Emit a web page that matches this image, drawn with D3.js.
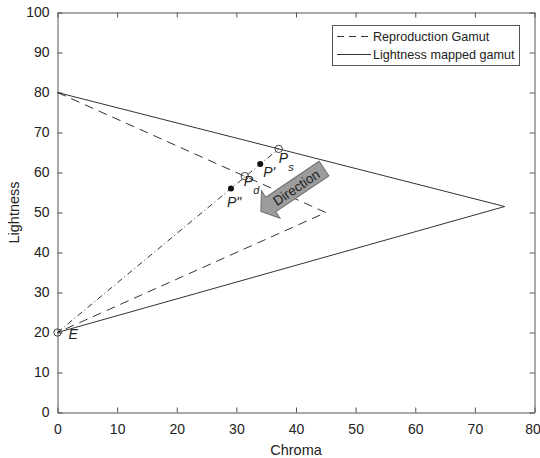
<!DOCTYPE html>
<html>
<head>
<meta charset="utf-8">
<script src="https://cdn.jsdelivr.net/npm/d3@7"></script>
<style>
  body { margin: 0; background: #fff; }
  svg text { font-family: "Liberation Sans", Arial, sans-serif; fill: #222; }
</style>
</head>
<body>
<svg id="chart" width="540" height="458"></svg>
<script>
// Axis ticks
const xTicks = [0, 10, 20, 30, 40, 50, 60, 70, 80];
const yTicks = [0, 10, 20, 30, 40, 50, 60, 70, 80, 90, 100];

// Gamut boundaries (chroma, lightness)
const reproChroma = [0, 45, 0];
const reproLightness = [80, 50, 20];
const mappedChroma = [0, 75, 0];
const mappedLightness = [80, 51.5, 20];

// Mapping line from the anchor E through the source point
const mapLineChroma = [0, 37.1];
const mapLineLightness = [20, 65.9];

// Marked points
const openNames = ["Ps", "Pd", "E"];
const openChroma = [37.1, 31.4, 0];
const openLightness = [65.9, 59.1, 20];
const filledNames = ["P'", "P\""];
const filledChroma = [34.0, 29.1];
const filledLightness = [62.1, 56.0];

// Direction arrow (tail -> tip) in chart units
const arrowChroma = [44.7, 34.1];
const arrowLightness = [61.0, 50.3];

const legendLabels = ["Reproduction Gamut", "Lightness mapped gamut"];

const zip = (cs, ls) => cs.map((c, i) => ({ c, l: ls[i] }));

const svg = d3.select("#chart");
const plotL = 57.5, plotR = 534.5, plotT = 12.5, plotB = 412.5;

const x = d3.scaleLinear().domain([0, 80]).range([plotL, plotR]);
const y = d3.scaleLinear().domain([0, 100]).range([plotB, plotT]);

const axisColor = "#555";
const lineColor = "#333";

// Axes: box with inward ticks on all four sides
const tickLen = 5;
const axes = svg.append("g");
const xAxisG = axes.append("g").attr("transform", `translate(0,${plotB})`)
  .call(d3.axisBottom(x).tickValues(xTicks).tickSizeInner(-tickLen).tickSizeOuter(0).tickPadding(12));
axes.append("g").attr("transform", `translate(0,${plotT})`)
  .call(d3.axisTop(x).tickValues(xTicks).tickSizeInner(-tickLen).tickSizeOuter(0).tickFormat(""));
axes.append("g").attr("transform", `translate(${plotL},0)`)
  .call(d3.axisLeft(y).tickValues(yTicks).tickSizeInner(-tickLen).tickSizeOuter(0).tickPadding(8));
axes.append("g").attr("transform", `translate(${plotR},0)`)
  .call(d3.axisRight(y).tickValues(yTicks).tickSizeInner(-tickLen).tickSizeOuter(0).tickFormat(""));

axes.selectAll(".domain").attr("stroke", axisColor).attr("stroke-width", 1);
axes.selectAll(".tick line").attr("stroke", axisColor);
axes.selectAll(".tick text")
  .attr("fill", "#222")
  .style("font-size", "14px")
  .style("font-family", "\"Liberation Sans\", Arial, sans-serif");
// keep the last x label inside the page edge
xAxisG.selectAll(".tick text").filter(d => d === 80).attr("dx", -2);

// Axis titles
svg.append("text")
  .attr("x", (plotL + plotR) / 2).attr("y", 455)
  .attr("text-anchor", "middle")
  .style("font-size", "14.5px")
  .text("Chroma");
svg.append("text")
  .attr("transform", `translate(19,${(plotT + plotB) / 2}) rotate(-90)`)
  .attr("text-anchor", "middle")
  .style("font-size", "14.5px")
  .text("Lightness");

const line = d3.line().x(d => x(d.c)).y(d => y(d.l));

// Gamut outlines
svg.append("path").datum(zip(reproChroma, reproLightness))
  .attr("d", line).attr("fill", "none")
  .attr("stroke", lineColor).attr("stroke-width", 1)
  .attr("stroke-dasharray", "9,6");
svg.append("path").datum(zip(mappedChroma, mappedLightness))
  .attr("d", line).attr("fill", "none")
  .attr("stroke", lineColor).attr("stroke-width", 1);

// Mapping line (dash-dot)
svg.append("path").datum(zip(mapLineChroma, mapLineLightness))
  .attr("d", line).attr("fill", "none")
  .attr("stroke", lineColor).attr("stroke-width", 1)
  .attr("stroke-dasharray", "6,3,1,3");

// Points
svg.append("g").selectAll("circle")
  .data(zip(openChroma, openLightness))
  .join("circle")
  .attr("cx", d => x(d.c)).attr("cy", d => y(d.l)).attr("r", 3.7)
  .attr("fill", "none").attr("stroke", "#444").attr("stroke-width", 1);
svg.append("g").selectAll("circle")
  .data(zip(filledChroma, filledLightness))
  .join("circle")
  .attr("cx", d => x(d.c)).attr("cy", d => y(d.l)).attr("r", 3)
  .attr("fill", "#111");

// Point labels (italic, with optional subscript)
const labelSpec = [
  { c: openChroma[0], l: openLightness[0], main: "P", sub: "s", dx: 0, dy: 14 },
  { c: filledChroma[0], l: filledLightness[0], main: "P'", sub: null, dx: 3, dy: 13 },
  { c: openChroma[1], l: openLightness[1], main: "P", sub: "d", dx: -1, dy: 10 },
  { c: filledChroma[1], l: filledLightness[1], main: "P\"", sub: null, dx: -4, dy: 18 },
  { c: openChroma[2], l: openLightness[2], main: "E", sub: null, dx: 11, dy: 6 }
];
const labels = svg.append("g").style("font-style", "italic");
labelSpec.forEach(s => {
  const px = x(s.c) + s.dx, py = y(s.l) + s.dy;
  labels.append("text").attr("x", px).attr("y", py)
    .style("font-size", "14px").text(s.main);
  if (s.sub) {
    labels.append("text").attr("x", px + 9.5).attr("y", py + 8)
      .style("font-size", "11px").text(s.sub);
  }
});

// Direction arrow
const ax0 = x(arrowChroma[0]), ay0 = y(arrowLightness[0]);
const ax1 = x(arrowChroma[1]), ay1 = y(arrowLightness[1]);
const aLen = Math.hypot(ax1 - ax0, ay1 - ay0);
const aAng = Math.atan2(ay1 - ay0, ax1 - ax0) * 180 / Math.PI;
const headLen = 12, bodyHalf = 8.8, headHalf = 16.5;
const arrow = svg.append("g").attr("transform", `translate(${ax0},${ay0}) rotate(${aAng})`);
arrow.append("path")
  .attr("d", `M0,${-bodyHalf} L${aLen - headLen},${-bodyHalf} L${aLen - headLen},${-headHalf} L${aLen},0 L${aLen - headLen},${headHalf} L${aLen - headLen},${bodyHalf} L0,${bodyHalf} Z`)
  .attr("fill", "#9c9c9c").attr("stroke", "#707070").attr("stroke-width", 1);
arrow.append("text")
  .attr("transform", `translate(${aLen * 0.44},0) rotate(180)`)
  .attr("text-anchor", "middle").attr("dy", "0.36em")
  .style("font-size", "13.5px").attr("fill", "#111")
  .text("Direction");

// Legend
const lg = svg.append("g");
lg.append("rect").attr("x", 332.5).attr("y", 25.5).attr("width", 187).attr("height", 40)
  .attr("fill", "#fff").attr("stroke", "#555").attr("stroke-width", 1);
const legendDash = ["7,5", null];
legendLabels.forEach((t, i) => {
  const yy = 36.5 + i * 18;
  lg.append("line").attr("x1", 337).attr("x2", 371).attr("y1", yy).attr("y2", yy)
    .attr("stroke", lineColor).attr("stroke-width", 1)
    .attr("stroke-dasharray", legendDash[i]);
  lg.append("text").attr("x", 373).attr("y", yy).attr("dy", "0.35em")
    .style("font-size", "12.6px").text(t);
});
</script>
</body>
</html>
